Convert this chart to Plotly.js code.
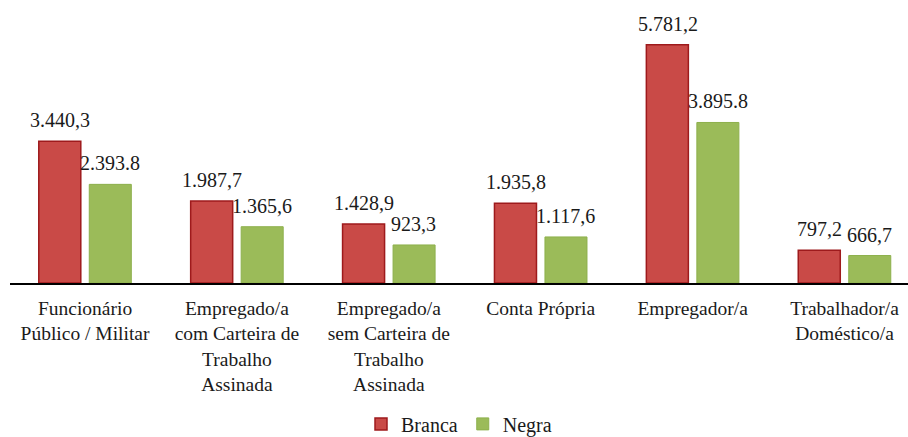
<!DOCTYPE html>
<html>
<head>
<meta charset="utf-8">
<script src="https://cdn.plot.ly/plotly-3.0.1.min.js"></script>
<style>body{margin:0;padding:0;background:#fff}#chart{width:908px;height:437px}</style>
</head>
<body>
<div id="chart"></div>
<script>
var categories = [
  "Funcionário<br>Público / Militar",
  "Empregado/a<br>com Carteira de<br>Trabalho<br>Assinada",
  "Empregado/a<br>sem Carteira de<br>Trabalho<br>Assinada",
  "Conta Própria",
  "Empregador/a",
  "Trabalhador/a<br>Doméstico/a"
];
var branca = [3440.3, 1987.7, 1428.9, 1935.8, 5781.2, 797.2];
var negra = [2393.8, 1365.6, 923.3, 1117.6, 3895.8, 666.7];
var brancaLabels = ["3.440,3", "1.987,7", "1.428,9", "1.935,8", "5.781,2", "797,2"];
var negraLabels = ["2.393.8", "1.365,6", "923,3", "1.117,6", "3.895.8", "666,7"];

var font = "Liberation Serif";

var traces = [
  {type: "bar", name: "Branca", x: categories, y: branca,
   marker: {color: "#c94a47", line: {color: "#9e1a1c", width: 1.5}}, hoverinfo: "none"},
  {type: "bar", name: "Negra", x: categories, y: negra,
   marker: {color: "#9bbb59", line: {color: "#8db04c", width: 1}}, hoverinfo: "none"}
];

var annotations = [];
for (var i = 0; i < categories.length; i++) {
  annotations.push({x: categories[i], y: branca[i], xref: "x", yref: "y", text: brancaLabels[i],
    showarrow: false, xshift: -25, yshift: 21, yanchor: "middle", xanchor: "center",
    font: {family: font, size: 20, color: "#1a1a1a"}});
  annotations.push({x: categories[i], y: negra[i], xref: "x", yref: "y", text: negraLabels[i],
    showarrow: false, xshift: 25, yshift: 21, yanchor: "middle", xanchor: "center",
    font: {family: font, size: 20, color: "#1a1a1a"}});
}

var layout = {
  width: 908, height: 437,
  margin: {l: 10, r: 0, t: 20, b: 154},
  paper_bgcolor: "#fff", plot_bgcolor: "#fff",
  barmode: "group", bargap: 0.335, bargroupgap: 0.168,
  showlegend: true,
  legend: {orientation: "h", x: 0.5, xanchor: "center", yref: "container", y: 0.03, yanchor: "middle",
    font: {family: font, size: 20, color: "#1a1a1a"}, itemwidth: 30, traceorder: "normal"},
  xaxis: {type: "category", range: [-0.494, 5.418], showline: true, linecolor: "#000", linewidth: 1.5,
    ticks: "", showgrid: false, zeroline: false, tickangle: 0, automargin: false, ticklabelstandoff: 7,
    tickfont: {family: font, size: 19.5, color: "#1a1a1a"}},
  yaxis: {range: [0, 6383], visible: false, showgrid: false, zeroline: false, automargin: false},
  annotations: annotations,
  font: {family: font}
};

Plotly.newPlot("chart", traces, layout, {displayModeBar: false, staticPlot: true});
</script>
</body>
</html>
